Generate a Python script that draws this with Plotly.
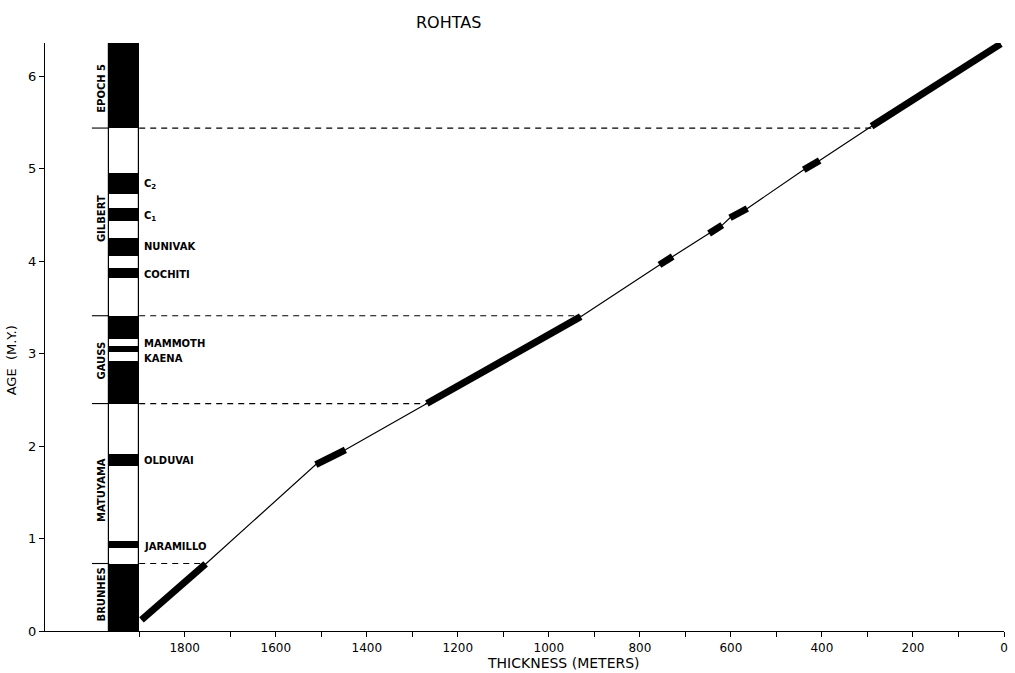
import plotly.graph_objects as go

# --- Magnetic polarity time scale (age in m.y.) ---
column_top = 6.36
normal_start = [0.00, 0.90, 1.78, 2.46, 3.02, 3.16, 3.82, 4.06, 4.44, 4.73, 5.44]
normal_end = [0.73, 0.97, 1.91, 2.92, 3.08, 3.41, 3.93, 4.25, 4.57, 4.95, 6.36]

epoch_names = ["BRUNHES", "MATUYAMA", "GAUSS", "GILBERT", "EPOCH 5"]
epoch_mid_age = [0.40, 1.53, 2.93, 4.46, 5.87]
epoch_bounds = [0.73, 2.46, 3.41, 5.44]

event_names = ["JARAMILLO", "OLDUVAI", "KAENA", "MAMMOTH", "COCHITI", "NUNIVAK",
               "C<sub>1</sub>", "C<sub>2</sub>"]
event_age = [0.91, 1.84, 2.95, 3.11, 3.86, 4.16, 4.48, 4.83]

# --- Age vs. stratigraphic thickness curve for the Rohtas section ---
thickness = [1895, 1754, 1512, 1447, 1268, 930, 757, 728, 648, 619, 602, 564, 440, 405, 291, 7]
age = [0.12, 0.725, 1.80, 1.96, 2.46, 3.40, 3.96, 4.05, 4.30, 4.39, 4.47, 4.57, 4.99, 5.09, 5.46, 6.35]

# thickness at which each epoch boundary meets the curve
bound_thickness = [1757, 1268, 930, 291]

x_major = list(range(0, 2000, 200))
x_minor = list(range(100, 2000, 200))
y_ticks = [0, 1, 2, 3, 4, 5, 6]

# column geometry (in thickness units)
col_center = 1933
col_width = 66
col_left = col_center + col_width / 2
col_right = col_center - col_width / 2
tick_left = 2004

fig = go.Figure()

# white background of the column with outline
fig.add_trace(go.Bar(x=[col_center], y=[column_top], base=[0], width=[col_width],
                     marker=dict(color="white", line=dict(color="black", width=1.2)),
                     showlegend=False, hoverinfo="skip"))
# normal-polarity intervals
fig.add_trace(go.Bar(x=[col_center] * len(normal_start),
                     y=[e - s for s, e in zip(normal_start, normal_end)],
                     base=normal_start, width=[col_width] * len(normal_start),
                     marker=dict(color="black", line=dict(width=0)),
                     showlegend=False, hoverinfo="skip"))

# epoch boundary ticks (solid, left of column) and dashed correlation lines
for b, t in zip(epoch_bounds, bound_thickness):
    fig.add_trace(go.Scatter(x=[tick_left, col_left], y=[b, b], mode="lines",
                             line=dict(color="black", width=1.1),
                             showlegend=False, hoverinfo="skip"))
    fig.add_trace(go.Scatter(x=[col_right, t], y=[b, b], mode="lines",
                             line=dict(color="black", width=1.2, dash="6px,5px"),
                             showlegend=False, hoverinfo="skip"))

# thin curve through all points
fig.add_trace(go.Scatter(x=thickness, y=age, mode="lines",
                         line=dict(color="black", width=1.2),
                         showlegend=False, hoverinfo="skip"))

# thick segments: normal intervals measured in the section
tx, ty = [], []
for i in range(0, len(thickness) - 1, 2):
    tx += [thickness[i], thickness[i + 1], None]
    ty += [age[i], age[i + 1], None]
fig.add_trace(go.Scatter(x=tx, y=ty, mode="lines",
                         line=dict(color="black", width=7),
                         showlegend=False, hoverinfo="skip"))

label_font = dict(family="DejaVu Sans", size=10, color="black", weight="bold")
for name, a in zip(epoch_names, epoch_mid_age):
    fig.add_annotation(x=1983, y=a, text=name, showarrow=False, textangle=-90,
                       font=label_font, xanchor="center", yanchor="middle")
for name, a in zip(event_names, event_age):
    fig.add_annotation(x=1894, y=a, text=name, showarrow=False,
                       font=label_font, xanchor="left", yanchor="middle")

# axis titles
fig.add_annotation(xref="paper", yref="paper", x=0.541, y=-0.054,
                   text="THICKNESS (METERS)", showarrow=False,
                   font=dict(family="DejaVu Sans", size=14, color="black"),
                   xanchor="center", yanchor="middle")
fig.add_annotation(xref="paper", yref="paper", x=-0.034, y=0.461,
                   text="AGE  (M.Y.)", showarrow=False, textangle=-90,
                   font=dict(family="DejaVu Sans", size=13, color="black"),
                   xanchor="center", yanchor="middle")

fig.update_layout(
    width=1015, height=673,
    margin=dict(l=45, r=7, t=43, b=42),
    paper_bgcolor="white", plot_bgcolor="white",
    barmode="overlay", bargap=0,
    title=dict(text="ROHTAS", x=0.442, xanchor="center", y=1 - 22 / 673, yanchor="middle",
               font=dict(family="DejaVu Sans", size=16, color="black")),
    xaxis=dict(range=[2107, 0], tickmode="array", tickvals=x_major,
               showgrid=False, zeroline=False, showline=True, linecolor="black", linewidth=1.2,
               ticks="outside", ticklen=5, tickcolor="black", tickwidth=1.1,
               minor=dict(tickmode="array", tickvals=x_minor, ticks="outside", ticklen=5,
                          tickcolor="black", tickwidth=1.1, showgrid=False),
               tickfont=dict(family="DejaVu Sans", size=12, color="black")),
    yaxis=dict(range=[0, 6.36], tickmode="array", tickvals=y_ticks,
               showgrid=False, zeroline=False, showline=True, linecolor="black", linewidth=1.2,
               ticks="outside", ticklen=5, tickcolor="black", tickwidth=1.1,
               tickfont=dict(family="DejaVu Sans", size=13, color="black")),
)

fig.write_html("out.html")
